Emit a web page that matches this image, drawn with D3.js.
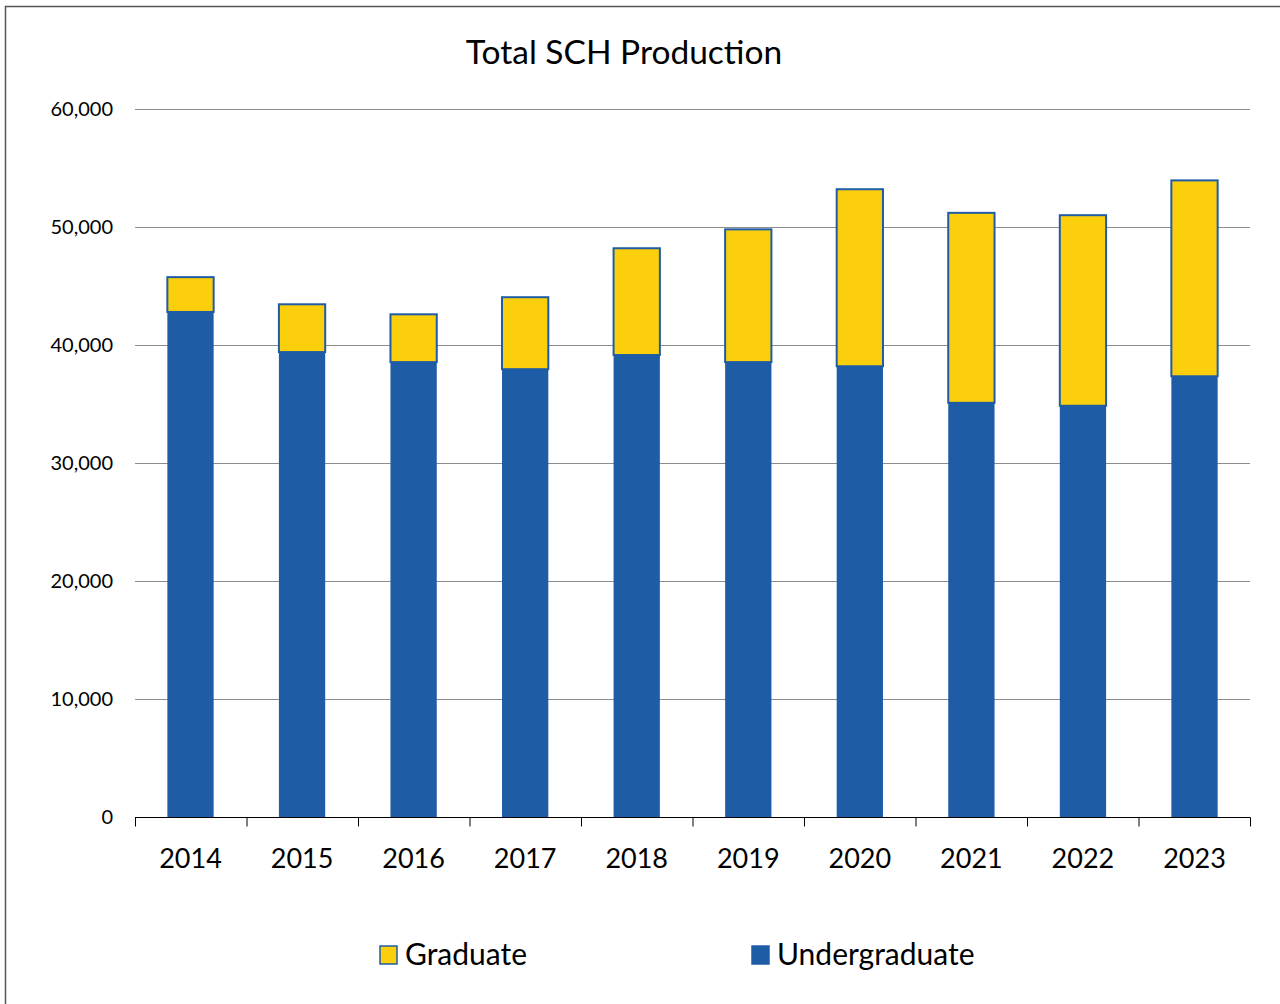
<!DOCTYPE html>
<html>
<head>
<meta charset="utf-8">
<script src="https://cdn.jsdelivr.net/npm/d3@7"></script>
<style>
  body { margin: 0; background: #fff; }
  text { font-family: Lato, "Open Sans", sans-serif; fill: #000; }
</style>
</head>
<body>
<script>
// chart data
var years = ["2014", "2015", "2016", "2017", "2018", "2019", "2020", "2021", "2022", "2023"];
var undergrad = [42800, 39400, 38550, 37950, 39150, 38550, 38200, 35100, 34850, 37350];
var graduate = [2950, 4050, 4050, 6100, 9050, 11250, 15000, 16100, 16150, 16600];
var yTicks = [0, 10000, 20000, 30000, 40000, 50000, 60000];

var w = 1280, h = 1004;
var blue = "#1f5ca6", yellow = "#fbcf0b";

var svg = d3.select("body").append("svg")
    .attr("width", w)
    .attr("height", h);

// outer chart border (runs off the right and bottom)
svg.append("rect")
    .attr("x", 5.5).attr("y", 6.5)
    .attr("width", 1400).attr("height", 1100)
    .attr("fill", "none")
    .attr("stroke", "#555")
    .attr("stroke-width", 1.5);

var plotL = 135, plotR = 1250, plotT = 109, plotB = 817;

var x = d3.scaleBand().domain(years).range([plotL, plotR]).paddingInner(0.585).paddingOuter(0.29);
var y = d3.scaleLinear().domain([0, 60000]).range([plotB, plotT]);

// gridlines
svg.selectAll(".grid").data(yTicks.slice(1)).enter()
    .append("line")
    .attr("x1", plotL).attr("x2", plotR)
    .attr("y1", function(d) { return y(d) + 0.5; })
    .attr("y2", function(d) { return y(d) + 0.5; })
    .attr("stroke", "#8c8c8c")
    .attr("stroke-width", 1);

// y labels
svg.selectAll(".ylab").data(yTicks).enter()
    .append("text")
    .attr("x", 113)
    .attr("y", function(d) { return y(d) + 7; })
    .attr("text-anchor", "end")
    .attr("font-size", 20)
    .text(function(d) { return d3.format(",")(d); });

// undergraduate bars
svg.selectAll(".ug").data(years).enter()
    .append("rect")
    .attr("x", function(d) { return x(d); })
    .attr("width", x.bandwidth())
    .attr("y", function(d, i) { return y(undergrad[i]); })
    .attr("height", function(d, i) { return plotB - y(undergrad[i]); })
    .attr("fill", blue);

// graduate bars stacked on top
svg.selectAll(".gr").data(years).enter()
    .append("rect")
    .attr("x", function(d) { return x(d); })
    .attr("width", x.bandwidth())
    .attr("y", function(d, i) { return y(undergrad[i] + graduate[i]); })
    .attr("height", function(d, i) { return y(undergrad[i]) - y(undergrad[i] + graduate[i]); })
    .attr("fill", yellow)
    .attr("stroke", blue)
    .attr("stroke-width", 2);

// x axis
var xAxis = svg.append("g").attr("transform", "translate(0," + (plotB + 0.5) + ")");
xAxis.append("line").attr("x1", plotL).attr("x2", plotR + 0.5).attr("stroke", "#000").attr("stroke-width", 1);
var step = (plotR - plotL) / years.length;
xAxis.selectAll(".tick").data(d3.range(years.length + 1)).enter()
    .append("line")
    .attr("x1", function(i) { return plotL + i * step + 0.5; })
    .attr("x2", function(i) { return plotL + i * step + 0.5; })
    .attr("y1", 0).attr("y2", 9)
    .attr("stroke", "#000");

svg.selectAll(".xlab").data(years).enter()
    .append("text")
    .attr("x", function(d) { return x(d) + x.bandwidth() / 2; })
    .attr("y", 868)
    .attr("text-anchor", "middle")
    .attr("font-size", 27)
    .text(function(d) { return d; });

// title
svg.append("text")
    .attr("x", 624).attr("y", 64)
    .attr("text-anchor", "middle")
    .attr("font-size", 33.5)
    .text("Total SCH Production");

// legend
var legend = [
  { name: "Graduate", color: yellow, x: 380 },
  { name: "Undergraduate", color: blue, x: 752 }
];
var lg = svg.selectAll(".leg").data(legend).enter().append("g");
lg.append("rect")
    .attr("x", function(d) { return d.x; })
    .attr("y", 946).attr("width", 17).attr("height", 18)
    .attr("fill", function(d) { return d.color; })
    .attr("stroke", blue).attr("stroke-width", 1.5);
lg.append("text")
    .attr("x", function(d) { return d.x + 25; })
    .attr("y", 965)
    .attr("font-size", 30)
    .text(function(d) { return d.name; });
</script>
</body>
</html>
